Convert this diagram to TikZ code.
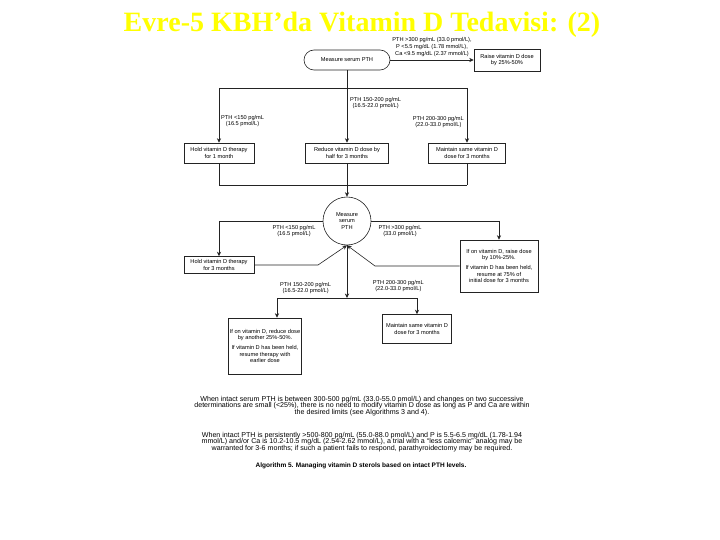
\documentclass[tikz,border=0pt]{standalone}
\usepackage{fontspec}
\setmainfont{Liberation Sans}
\newfontfamily\titlefont{Liberation Serif}
\usetikzlibrary{arrows.meta,positioning,calc,shadows}
\definecolor{titleyellow}{RGB}{255,255,0}
\definecolor{linegray}{RGB}{35,35,35}
\newcommand{\boxfont}{\fontsize{5.65}{6.6}\selectfont}
\tikzset{
  block/.style={rectangle, draw=linegray, fill=white, align=center,
                font=\boxfont, inner sep=1.2pt, line width=0.6pt,
                general shadow={shadow xshift=0.9pt, shadow yshift=-0.9pt, fill=linegray}},
  measure/.style={rectangle, draw=linegray, fill=white, font=\boxfont, line width=0.6pt,
                  rounded corners=10pt, minimum width=86pt, minimum height=20pt},
  checkpt/.style={circle, draw=linegray, fill=white, align=center, font=\boxfont,
                  minimum size=48pt, inner sep=0pt, line width=0.6pt},
  arrow/.style={-{Stealth[length=4.5pt,width=4.2pt]}, line width=0.6pt, linegray},
  link/.style={line width=0.6pt, linegray},
  lbl/.style={font=\boxfont, align=center, inner sep=0pt},
  note/.style={font=\fontsize{7.1}{6.8}\selectfont, align=center, inner sep=0pt},
}

\begin{document}
\begin{tikzpicture}[x=1pt, y=-1pt]
  \useasboundingbox (0,0) rectangle (720,540);
  \node[font=\titlefont\bfseries\fontsize{28}{30}\selectfont, text=titleyellow] (title) at (362,25)
    {Evre-5 KBH’da Vitamin D Tedavisi: (2)};

  % first measurement
  \node[measure] (pth1) at (347,60) {Measure serum PTH};
  \node[block, minimum width=66pt, minimum height=22pt] (raise1) at (507,60) {Raise vitamin D dose\\by 25\%-50\%};
  \draw[arrow] (pth1) -- (raise1);
  \node[lbl] (lblraise) at (432,47) {PTH >300 pg/mL (33.0 pmol/L),\\P <5.5 mg/dL (1.78 mmol/L),\\Ca <9.5 mg/dL (2.37 mmol/L)};

  \coordinate (bar1) at (347,88);
  \coordinate (bar1l) at (219,88);
  \coordinate (bar1r) at (467,88);
  \draw[link] (pth1) -- (bar1);
  \draw[link] (bar1l) -- (bar1r);

  \node[block, minimum width=70pt, minimum height=20pt] (hold1) at (219,153) {Hold vitamin D therapy\\for 1 month};
  \node[block, minimum width=83pt, minimum height=20pt] (reduce1) at (347,153) {Reduce vitamin D dose by\\half for 3 months};
  \node[block, minimum width=77pt, minimum height=20pt] (keep1) at (467,153) {Maintain same vitamin D\\dose for 3 months};
  \draw[arrow] (bar1l) -- (hold1);
  \draw[arrow] (bar1) -- (reduce1);
  \draw[arrow] (bar1r) -- (keep1);
  \node[lbl, anchor=west] (lblhold1) at (221,121) {PTH <150 pg/mL\\(16.5 pmol/L)};
  \node[lbl, anchor=west] (lblred1) at (350,103) {PTH 150-200 pg/mL\\(16.5-22.0 pmol/L)};
  \node[lbl, anchor=east] (lblkeep1) at (464,122) {PTH 200-300 pg/mL\\(22.0-33.0 pmol/L)};

  % second measurement
  \coordinate (bar2) at (347,185);
  \coordinate (bar2l) at (219,185);
  \coordinate (bar2r) at (467,185);
  \draw[link] (hold1) -- (bar2l);
  \draw[link] (reduce1) -- (bar2);
  \draw[link] (keep1) -- (bar2r);
  \draw[link] (bar2l) -- (bar2r);
  \node[checkpt] (pth2) at (347,221) {Measure\\serum\\PTH};
  \draw[arrow] (bar2) -- (pth2);

  \coordinate (left2) at (219,221);
  \coordinate (left3) at (318,265);
  \node[block, minimum width=70pt, minimum height=17pt] (hold3) at (219,265) {Hold vitamin D therapy\\for 3 months};
  \draw[link] (pth2) -- (left2);
  \draw[arrow] (left2) -- (hold3);
  \draw[arrow] (hold3) -- (left3) -- (pth2.south);
  \node[lbl] (lblhold3) at (294,231) {PTH <150 pg/mL\\(16.5 pmol/L)};

  \coordinate (right2) at (499,221);
  \coordinate (right3) at (375,266);
  \node[block, minimum width=78pt, minimum height=52pt] (raise3) at (499,266)
    {If on vitamin D, raise dose\\by 10\%-25\%.\\[3pt]If vitamin D has been held,\\resume at 75\% of\\initial dose for 3 months};
  \draw[link] (pth2) -- (right2);
  \draw[arrow] (right2) -- (raise3);
  \draw[arrow] (raise3) -- (right3) -- (pth2.south);
  \node[lbl] (lblraise3) at (400,231) {PTH >300 pg/mL\\(33.0 pmol/L)};

  \coordinate (bar3) at (347,298);
  \coordinate (bar3l) at (277,298);
  \coordinate (bar3r) at (417,298);
  \draw[arrow] (pth2) -- (bar3);
  \draw[link] (bar3l) -- (bar3r);
  \node[block, minimum width=66pt, minimum height=56pt] (reduce3) at (265,346)
    {If on vitamin D, reduce dose\\by another 25\%-50\%.\\[3pt]If vitamin D has been held,\\resume therapy with\\earlier dose};
  \node[block, minimum width=69pt, minimum height=29pt] (keep3) at (417,329) {Maintain same vitamin D\\dose for 3 months};
  \draw[arrow] (bar3l) -- (bar3l |- reduce3.north);
  \draw[arrow] (bar3r) -- (keep3);
  \node[lbl, anchor=west] (lblred3) at (280,288) {PTH 150-200 pg/mL\\(16.5-22.0 pmol/L)};
  \node[lbl, anchor=east] (lblkeep3) at (424,286) {PTH 200-300 pg/mL\\(22.0-33.0 pmol/L)};

  % notes
  \node[note] (note1) at (362,406) {When intact serum PTH is between 300-500 pg/mL (33.0-55.0 pmol/L) and changes on two successive\\determinations are small (<25\%), there is no need to modify vitamin D dose as long as P and Ca are within\\the desired limits (see Algorithms 3 and 4).};
  \node[note] (note2) at (362,442) {When intact PTH is persistently >500-800 pg/mL (55.0-88.0 pmol/L) and P is 5.5-6.5 mg/dL (1.78-1.94\\mmol/L) and/or Ca is 10.2-10.5 mg/dL (2.54-2.62 mmol/L), a trial with a “less calcemic” analog may be\\warranted for 3-6 months; if such a patient fails to respond, parathyroidectomy may be required.};
  \node[note, font=\bfseries\fontsize{6.5}{6.8}\selectfont] (caption) at (361,466) {Algorithm 5. Managing vitamin D sterols based on intact PTH levels.};
\end{tikzpicture}
\end{document}
